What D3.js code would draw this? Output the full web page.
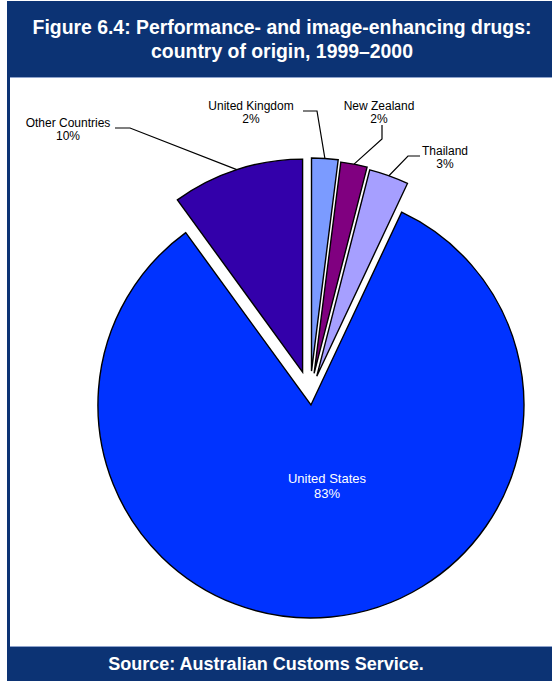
<!DOCTYPE html>
<html>
<head>
<meta charset="utf-8">
<script src="https://cdn.jsdelivr.net/npm/d3@7"></script>
<style>
  html, body { margin: 0; padding: 0; background: #fff; }
  svg { display: block; }
</style>
</head>
<body>
<script>
// Country of origin, shares of detections (per cent), drawn clockwise from 12 o'clock
const categories = ["United Kingdom", "New Zealand", "Thailand", "United States", "Other Countries"];
const shares = [2, 2, 3, 83, 10];
const shareLabels = ["2%", "2%", "3%", "83%", "10%"];

const titleLines = ["Figure 6.4: Performance- and image-enhancing drugs:", "country of origin, 1999\u20132000"];
const sourceText = "Source: Australian Customs Service.";

// Styling and layout
const fills = {
  "United Kingdom": "#7b9bff",
  "New Zealand": "#800080",
  "Thailand": "#a69fff",
  "United States": "#0033ff",
  "Other Countries": "#3300aa"
};
const explode = {
  "United Kingdom": 24,
  "New Zealand": 22,
  "Thailand": 20,
  "United States": 10,
  "Other Countries": 24
};
// label anchor (centre x, first baseline), font size, line gap and leader elbow points
const labelLayout = {
  "United Kingdom": { x: 251, y: 110, size: 12, gap: 13, leader: [[303, 111], [317, 111]] },
  "New Zealand": { x: 379, y: 110, size: 12, gap: 13, leader: [[382, 125], [382, 139]] },
  "Thailand": { x: 445, y: 155, size: 12, gap: 13, leader: [[420, 156], [408, 156]] },
  "United States": { x: 327, y: 483, size: 13, gap: 15, leader: null, color: "#fff" },
  "Other Countries": { x: 68, y: 127, size: 12, gap: 13, leader: [[115, 128], [130, 128]] }
};

const W = 552, H = 681;
const navy = "#0c3374";
const cx = 310, cy = 395, R = 213;

const svg = d3.select("body").append("svg")
  .attr("width", W).attr("height", H);

// frame: navy header/footer band and left rule around a white panel
svg.append("rect").attr("x", 7).attr("y", 1).attr("width", W - 7).attr("height", H - 1).attr("fill", navy);
svg.append("rect").attr("x", 10).attr("y", 78).attr("width", W - 10).attr("height", 568).attr("fill", "#fff");
svg.append("line").attr("x1", 10).attr("x2", W).attr("y1", 77.5).attr("y2", 77.5)
  .attr("stroke", "#8ea3cc").attr("stroke-width", 1);
svg.append("line").attr("x1", 10).attr("x2", W).attr("y1", 646.5).attr("y2", 646.5)
  .attr("stroke", "#8ea3cc").attr("stroke-width", 1);

// title
svg.append("g").selectAll("text").data(titleLines).join("text")
  .attr("x", 282).attr("y", (d, i) => 34 + i * 24)
  .attr("text-anchor", "middle")
  .attr("fill", "#fff")
  .attr("font-family", "Liberation Sans, Arial, sans-serif")
  .attr("font-weight", "bold")
  .attr("font-size", 19.4)
  .text(d => d);

// source
svg.append("text")
  .attr("x", 266).attr("y", 670)
  .attr("text-anchor", "middle")
  .attr("fill", "#fff")
  .attr("font-family", "Liberation Sans, Arial, sans-serif")
  .attr("font-weight", "bold")
  .attr("font-size", 18)
  .text(sourceText);

// pie
const rows = categories.map((c, i) => ({ name: c, value: shares[i], label: shareLabels[i] }));
const pie = d3.pie().value(d => d.value).sort(null).startAngle(0).endAngle(2 * Math.PI);
const arcs = pie(rows);
const arc = d3.arc().innerRadius(0).outerRadius(R);

function offsetOf(a) {
  const mid = (a.startAngle + a.endAngle) / 2;
  const e = explode[a.data.name];
  return [Math.sin(mid) * e, -Math.cos(mid) * e];
}

const pieG = svg.append("g").attr("transform", `translate(${cx},${cy})`);
pieG.selectAll("path").data(arcs).join("path")
  .attr("transform", d => { const o = offsetOf(d); return `translate(${o[0]},${o[1]})`; })
  .attr("d", arc)
  .attr("fill", d => fills[d.data.name])
  .attr("stroke", "#000")
  .attr("stroke-width", 1.4)
  .attr("stroke-linejoin", "miter");

// leader lines from labels to the middle of each slice's outer edge
const leaderG = svg.append("g");
arcs.forEach(a => {
  const lay = labelLayout[a.data.name];
  if (!lay.leader) return;
  const mid = (a.startAngle + a.endAngle) / 2;
  const o = offsetOf(a);
  const end = [cx + o[0] + Math.sin(mid) * R, cy + o[1] - Math.cos(mid) * R];
  const pts = lay.leader.concat([end]);
  leaderG.append("path")
    .attr("d", d3.line()(pts))
    .attr("fill", "none")
    .attr("stroke", "#000")
    .attr("stroke-width", 1.2);
});

// slice labels
const labelG = svg.append("g")
  .attr("font-family", "Liberation Sans, Arial, sans-serif")
  .attr("text-anchor", "middle");
arcs.forEach(a => {
  const lay = labelLayout[a.data.name];
  const t = labelG.append("text")
    .attr("fill", lay.color || "#000")
    .attr("font-size", lay.size);
  t.append("tspan").attr("x", lay.x).attr("y", lay.y).text(a.data.name);
  t.append("tspan").attr("x", lay.x).attr("y", lay.y + lay.gap).text(a.data.label);
});
</script>
</body>
</html>
